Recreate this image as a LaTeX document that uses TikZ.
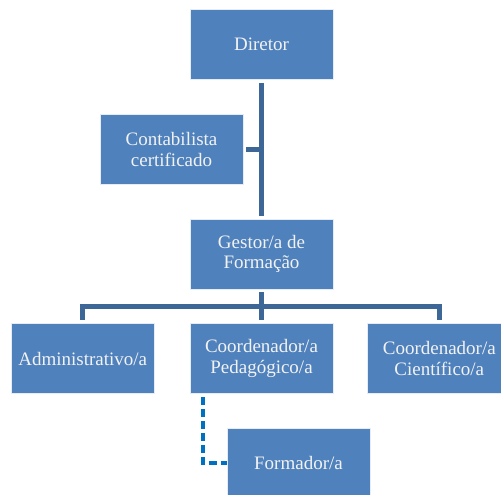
\documentclass[tikz,border=0pt]{standalone}
\usepackage{fontspec}
\setmainfont{Liberation Serif}
\usepackage{xcolor}
\usetikzlibrary{positioning,calc}

\definecolor{boxblue}{HTML}{4F81BD}
\definecolor{linkblue}{HTML}{3C6797}
\definecolor{dashblue}{HTML}{0070C0}

\begin{document}
\begin{tikzpicture}[
      x=1pt, y=-1pt,
      node distance=35pt,
      box/.style={draw=white!85!boxblue, fill=boxblue, line width=0.8pt, align=center, text=white!95!black, font=\fontsize{19}{20.5}\selectfont, minimum width=143pt, minimum height=70pt, inner sep=2pt},
      link/.style={line width=4.5pt, draw=linkblue, shorten <=3pt, shorten >=3pt},
      dashlink/.style={line width=4pt, draw=dashblue, dash pattern=on 8pt off 4pt, shorten <=3pt}
      ]
      \useasboundingbox (0,0) rectangle (501,495);

      % Nodes
      \node (dir) [box] at (261.5,44.5) {Diretor};
      \node (cont) [box] at (171.5,149.5) {Contabilista\\certificado};
      \node (gest) [box] at (261.5,254) {Gestor/a de\\Formação};
      \node (ped) [box] at (261.5,358.5) {Coordenador/a\\Pedagógico/a};
      \node (adm) [box, left=of ped] {Administrativo/a};
      \node (cien) [box, right=34pt of ped] {Coordenador/a\\Científico/a};
      \node (form) [box] at (298.5,463) {Formador/a};

      % Connectors
      \coordinate (bus) at ($(gest.south)!0.5!(ped.north)$);
      \coordinate (dstart) at ([xshift=13pt]ped.south west);
      \draw [link] (dir.south) -- (gest.north);
      \draw [link] (cont.east) -- (cont.east -| dir.south);
      \draw [link] (gest.south) -- (ped.north);
      \draw [link] (adm.north) |- (bus) -| (cien.north);
      \draw [dashlink] (dstart) |- (form.west);

    \end{tikzpicture}
\end{document}
